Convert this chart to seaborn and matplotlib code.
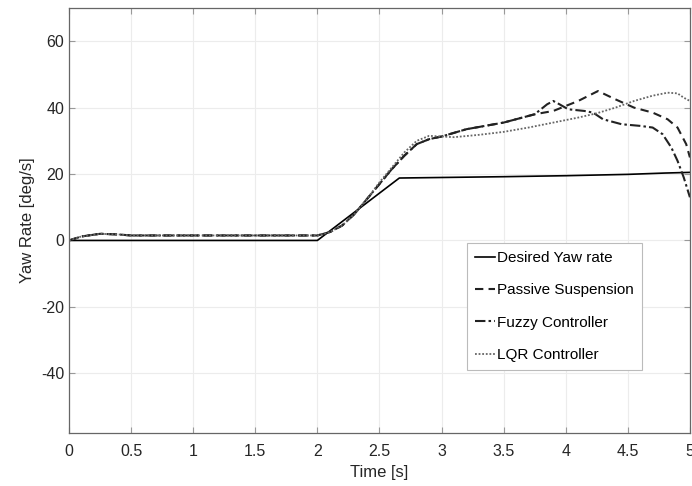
import matplotlib
matplotlib.use("Agg")
import matplotlib.pyplot as plt
import seaborn as sb

# time [s] / yaw rate [deg/s]
t_desired = [0, 2.0, 2.66, 3.5, 4.0, 4.5, 4.8, 5.0]
yaw_desired = [0, 0, 18.8, 19.2, 19.5, 19.9, 20.3, 20.5]

t_passive = [0, 0.1, 0.25, 0.4, 0.5, 1.0, 1.5, 2.0, 2.1, 2.2, 2.3, 2.4, 2.5, 2.6, 2.7,
             2.8, 2.9, 3.0, 3.2, 3.5, 3.75, 3.9, 4.1, 4.26, 4.4, 4.55, 4.7, 4.82, 4.9, 4.97, 5.0]
yaw_passive = [0, 1.2, 2.0, 1.8, 1.5, 1.5, 1.5, 1.5, 2.5, 4.5, 8, 12.5, 17, 21.5, 25.5,
               29, 30.5, 31.3, 33.5, 35.5, 38, 39, 42, 45, 42.5, 40, 38.5, 36.5, 34, 29, 25]

t_fuzzy = [0, 0.1, 0.25, 0.4, 0.5, 1.0, 1.5, 2.0, 2.1, 2.2, 2.3, 2.4, 2.5, 2.6, 2.7,
           2.8, 2.9, 3.0, 3.2, 3.5, 3.75, 3.85, 3.9, 3.95, 4.02, 4.15, 4.22, 4.3, 4.45,
           4.6, 4.7, 4.78, 4.85, 4.9, 4.95, 5.0]
yaw_fuzzy = [0, 1.2, 2.0, 1.8, 1.5, 1.5, 1.5, 1.5, 2.5, 4.5, 8, 12.5, 17, 21.5, 25.5,
             29, 30.5, 31.3, 33.5, 35.5, 38, 41, 42, 41, 39.5, 39, 38.5, 36.5, 35,
             34.5, 34, 32, 28, 24, 19, 13]

t_lqr = [0, 0.1, 0.25, 0.4, 0.5, 1.0, 1.5, 2.0, 2.1, 2.2, 2.3, 2.4, 2.5, 2.6, 2.7,
         2.8, 2.9, 3.0, 3.1, 3.3, 3.5, 3.7, 3.9, 4.1, 4.25, 4.4, 4.55, 4.7, 4.82,
         4.9, 4.95, 5.0]
yaw_lqr = [0, 1.2, 2.0, 1.8, 1.5, 1.5, 1.5, 1.5, 2.5, 4.5, 8, 12.5, 17.5, 22, 26.5,
           30, 31.5, 31.3, 31.1, 31.8, 32.7, 34, 35.5, 37, 38.3, 40, 42, 43.6, 44.5,
           44.3, 43, 42]

plt.rcParams["font.family"] = ["Liberation Sans", "DejaVu Sans"]
plt.rcParams["axes.unicode_minus"] = False

fig = plt.figure(figsize=(6.92, 4.86), dpi=100)
ax = fig.add_axes([0.0997, 0.109, 0.8973, 0.8745])

sb.lineplot(x=t_desired, y=yaw_desired, ax=ax, color="black", lw=1.2,
            label="Desired Yaw rate")
sb.lineplot(x=t_passive, y=yaw_passive, ax=ax, color="#222222", lw=1.5,
            linestyle=(0, (4, 2.5)), label="Passive Suspension")
sb.lineplot(x=t_fuzzy, y=yaw_fuzzy, ax=ax, color="#222222", lw=1.5,
            linestyle=(0, (5, 1.5, 1.2, 1.5)), label="Fuzzy Controller")
sb.lineplot(x=t_lqr, y=yaw_lqr, ax=ax, color="#666666", lw=1.3,
            linestyle=(0, (1, 1)), label="LQR Controller")

ax.set_xlim(0, 5)
ax.set_ylim(-58, 70)
ax.set_xticks([0, 0.5, 1, 1.5, 2, 2.5, 3, 3.5, 4, 4.5, 5])
ax.set_xticklabels(["0", "0.5", "1", "1.5", "2", "2.5", "3", "3.5", "4", "4.5", "5"])
ax.set_yticks([-40, -20, 0, 20, 40, 60])
ax.grid(True, color="#ececec", lw=0.8)
ax.set_axisbelow(True)
ax.tick_params(direction="in", length=4, color="#999999", labelsize=11.5,
               top=True, right=True, labelcolor="#262626")
ax.tick_params(axis="x", pad=8)
for s in ax.spines.values():
    s.set_color("#666666")
    s.set_linewidth(0.9)
ax.set_xlabel("Time [s]", fontsize=12, color="#262626", labelpad=4)
ax.set_ylabel("Yaw Rate [deg/s]", fontsize=12, color="#262626", labelpad=4)

leg = ax.legend(loc="upper left", bbox_to_anchor=(0.628, 0.466), fontsize=11,
                handlelength=1.3, handletextpad=0.15, labelspacing=1.2,
                borderpad=0.55, fancybox=False, framealpha=1)
leg.get_frame().set_edgecolor("#bbbbbb")
leg.get_frame().set_linewidth(0.8)

fig.savefig("out.png", dpi=100)
